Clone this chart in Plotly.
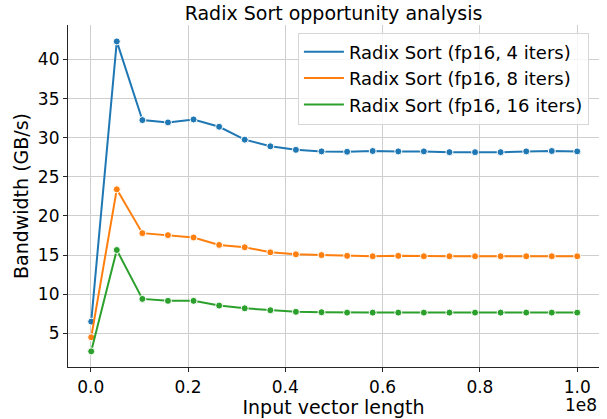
import plotly.graph_objects as go

# Input vector lengths (elements)
lengths = [1.0e5, 5.36e6, 1.062e7, 1.588e7, 2.114e7, 2.640e7, 3.166e7, 3.692e7,
           4.218e7, 4.744e7, 5.270e7, 5.796e7, 6.322e7, 6.848e7, 7.374e7, 7.900e7,
           8.426e7, 8.952e7, 9.478e7, 1.0e8]

# Measured bandwidth (GB/s) per configuration
bw_4_iters = [6.5, 42.3, 32.25, 31.95, 32.33, 31.4, 29.75, 28.9, 28.45, 28.25,
              28.2, 28.3, 28.25, 28.25, 28.15, 28.15, 28.15, 28.25, 28.3, 28.25]
bw_8_iters = [4.5, 23.4, 17.8, 17.55, 17.25, 16.3, 16.0, 15.35, 15.1, 15.0,
              14.9, 14.85, 14.9, 14.85, 14.85, 14.85, 14.85, 14.85, 14.85, 14.85]
bw_16_iters = [2.7, 15.65, 9.4, 9.15, 9.15, 8.55, 8.2, 7.95, 7.75, 7.7,
               7.65, 7.65, 7.65, 7.65, 7.65, 7.65, 7.65, 7.65, 7.65, 7.65]

series_names = ["Radix Sort (fp16, 4 iters)", "Radix Sort (fp16, 8 iters)",
                "Radix Sort (fp16, 16 iters)"]
colors = ["#1f77b4", "#ff7f0e", "#2ca02c"]

x_tick_vals = [0, 2e7, 4e7, 6e7, 8e7, 1e8]
x_tick_text = ["0.0", "0.2", "0.4", "0.6", "0.8", "1.0"]
y_tick_vals = [5, 10, 15, 20, 25, 30, 35, 40]

FONT = "DejaVu Sans, sans-serif"
TEXT = "#262626"

fig = go.Figure()
for name, ys, c in zip(series_names, [bw_4_iters, bw_8_iters, bw_16_iters], colors):
    fig.add_trace(go.Scatter(
        x=lengths, y=ys, mode="lines+markers", name=name, showlegend=False,
        line=dict(color=c, width=2),
        marker=dict(size=7, color=c, line=dict(color="white", width=1)),
    ))
# legend entries show a plain line sample
for name, c in zip(series_names, colors):
    fig.add_trace(go.Scatter(
        x=[None], y=[None], mode="lines", name=name,
        line=dict(color=c, width=2),
    ))

fig.update_layout(
    width=607, height=419,
    margin=dict(l=68, r=8, t=25, b=52),
    paper_bgcolor="white", plot_bgcolor="white",
    font=dict(family=FONT, size=17, color=TEXT),
    title=dict(text="Radix Sort opportunity analysis", x=(68 + 599) / 2 / 607,
               xanchor="center", y=1 - 13 / 419, yanchor="middle",
               font=dict(size=19, color="black")),
    legend=dict(x=0.433, y=0.978, xanchor="left", yanchor="top",
                bgcolor="rgba(255,255,255,0.8)", bordercolor="#d6d6d6",
                borderwidth=1, font=dict(size=18, color="black"),
                tracegroupgap=0, itemwidth=40),
    showlegend=True,
)

fig.update_xaxes(
    range=[-0.0467e8, 1.0448e8],
    tickvals=x_tick_vals, ticktext=x_tick_text,
    showgrid=True, gridcolor="#cfcfcf", gridwidth=1,
    showline=True, linecolor=TEXT, linewidth=1.2,
    ticks="outside", ticklen=4, tickcolor=TEXT,
    zeroline=False, tickfont=dict(size=17, color="black"),
    title=dict(text="Input vector length", font=dict(size=19, color="black"),
               standoff=2),
)
fig.update_yaxes(
    range=[0.7, 44.4],
    tickvals=y_tick_vals,
    showgrid=True, gridcolor="#cfcfcf", gridwidth=1,
    showline=True, linecolor=TEXT, linewidth=1.2,
    ticks="outside", ticklen=4, tickcolor=TEXT,
    zeroline=False, tickfont=dict(size=17, color="black"),
    title=dict(text="Bandwidth (GB/s)", font=dict(size=19, color="black"),
               standoff=4),
)

# axis offset multiplier
fig.add_annotation(text="1e8", xref="paper", yref="paper", x=1.0, y=-0.076,
                   xanchor="right", yanchor="top", showarrow=False,
                   font=dict(size=17, color="black"))

fig.write_html("out.html")
